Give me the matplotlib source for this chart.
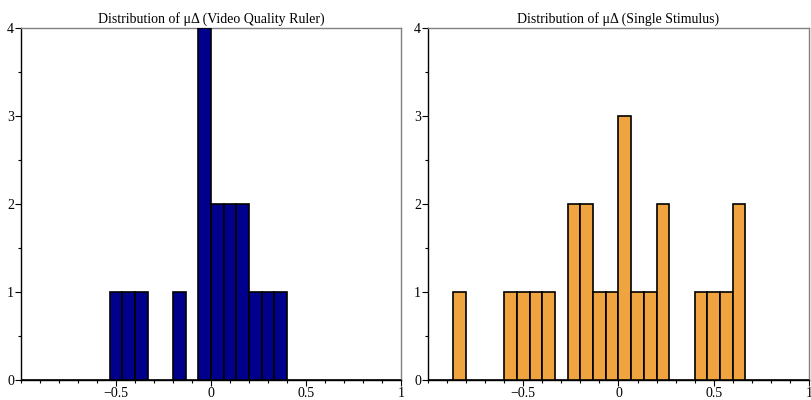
import numpy as np
import matplotlib.pyplot as plt
from matplotlib.ticker import MultipleLocator, FixedLocator, FixedFormatter

plt.rcParams['font.family'] = ['Liberation Serif', 'DejaVu Serif']

# histogram bins: width 1/15 from -1 to 1 (30 bins)
bin_edges = np.arange(-15, 16) / 15.0

# counts per bin, left to right
counts_ruler = [0, 0, 0, 0, 0, 0, 0, 1, 1, 1, 0, 0, 1, 0, 4,
                2, 2, 2, 1, 1, 1, 0, 0, 0, 0, 0, 0, 0, 0, 0]
counts_single = [0, 0, 1, 0, 0, 0, 1, 1, 1, 1, 0, 2, 2, 1, 1,
                 3, 1, 1, 2, 0, 0, 1, 1, 1, 2, 0, 0, 0, 0, 0]

titles = ['Distribution of \u03bc\u0394 (Video Quality Ruler)',
          'Distribution of \u03bc\u0394 (Single Stimulus)']
colors = ['#00008C', '#F0A440']
xtick_vals = [-0.5, 0, 0.5, 1]
xtick_labels = ['\u22120.5', '0', '0.5', '1']

fig = plt.figure(figsize=(8.11, 4.0), dpi=100)
axes = [fig.add_axes([0.0259, 0.05, 0.4686, 0.88]),
        fig.add_axes([0.5277, 0.05, 0.4698, 0.88])]

for ax, counts, title, col in zip(axes, [counts_ruler, counts_single], titles, colors):
    widths = np.diff(bin_edges)
    ax.bar(bin_edges[:-1], counts, width=widths, align='edge',
           color=col, edgecolor='black', linewidth=1.2, zorder=3)
    ax.set_xlim(-1, 1)
    ax.set_ylim(0, 4)
    ax.set_title(title, fontsize=10, pad=4)

    ax.xaxis.set_major_locator(FixedLocator(xtick_vals))
    ax.xaxis.set_major_formatter(FixedFormatter(xtick_labels))
    ax.xaxis.set_minor_locator(MultipleLocator(0.1))
    ax.yaxis.set_major_locator(MultipleLocator(1))
    ax.yaxis.set_minor_locator(MultipleLocator(0.5))
    ax.tick_params(axis='both', which='major', direction='out', length=4,
                   width=0.8, labelsize=10, pad=1)
    ax.tick_params(axis='both', which='minor', direction='out', length=2, width=0.8)

    for side in ['top', 'right']:
        ax.spines[side].set_color('#808080')
        ax.spines[side].set_linewidth(1.0)
    for side in ['left', 'bottom']:
        ax.spines[side].set_color('black')
        ax.spines[side].set_linewidth(1.0)

fig.savefig('out.png', dpi=100)
